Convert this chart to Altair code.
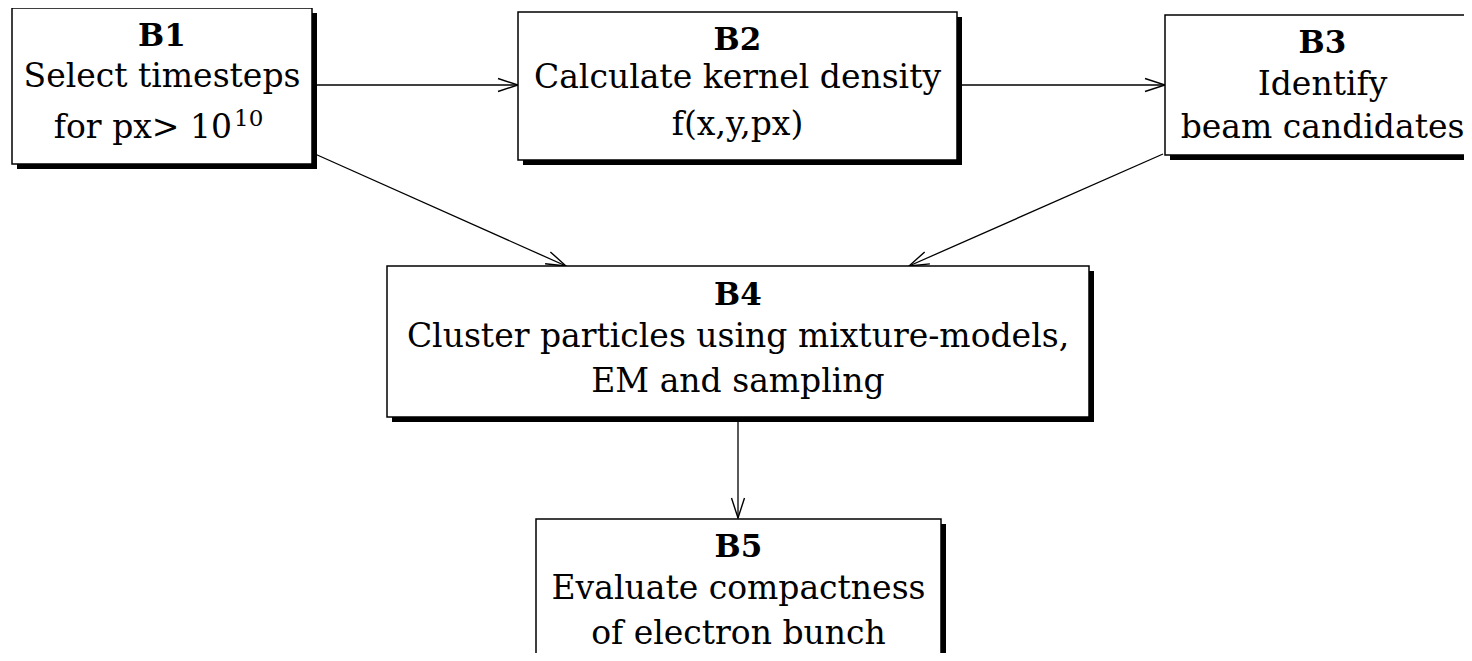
import math
import altair as alt
import pandas as pd

# ---- diagram content -------------------------------------------------
node_ids = ["B1", "B2", "B3", "B4", "B5"]
node_left = [12, 518, 1165, 387, 536]
node_right = [312, 957, 1480, 1089, 941]
node_top = [8, 12, 15, 266, 519]
node_bottom = [164, 160, 155, 417, 658]

line_node = ["B1", "B1", "B1",
             "B2", "B2", "B2",
             "B3", "B3", "B3",
             "B4", "B4", "B4",
             "B5", "B5", "B5"]
line_text = ["B1", "Select timesteps", "",
             "B2", "Calculate kernel density", "f(x,y,px)",
             "B3", "Identify", "beam candidates",
             "B4", "Cluster particles using mixture-models,", "EM and sampling",
             "B5", "Evaluate compactness", "of electron bunch"]
line_bold = [True, False, False] * 5
line_baseline = [46, 87, 0,
                 50, 88, 135,
                 53, 95, 138,
                 305, 347, 392,
                 557, 599, 644]

# line with the power of ten (base + superscript)
power_base_text = ["for px> 10"]
power_base_right = [232]
power_base_baseline = [138]
power_sup_text = ["10"]
power_sup_left = [234]
power_sup_baseline = [126]

edge_from = ["B1", "B2", "B1", "B3", "B4"]
edge_to = ["B2", "B3", "B4", "B4", "B5"]
edge_x0 = [316, 962, 315, 1163, 738]
edge_y0 = [85, 85, 154, 154, 421]
edge_x1 = [518, 1165, 566, 909, 738]
edge_y1 = [85, 85, 266, 266, 518]

SHADOW = 5

# ---- tables ----------------------------------------------------------
nodes = pd.DataFrame({"id": node_ids, "l": node_left, "r": node_right,
                      "t": node_top, "b": node_bottom})
nodes["cx"] = (nodes["l"] + nodes["r"]) / 2
cx = dict(zip(nodes["id"], nodes["cx"]))

lines = pd.DataFrame({"node": line_node, "text": line_text,
                      "bold": line_bold, "y": line_baseline})
lines = lines[lines["text"] != ""].copy()
lines["x"] = lines["node"].map(cx)

edges = pd.DataFrame({"src": edge_from, "dst": edge_to,
                      "x0": edge_x0, "y0": edge_y0, "x1": edge_x1, "y1": edge_y1})
edges["angle"] = [
    (math.degrees(math.atan2(b - a, d - c)) + 360) % 360
    for a, b, c, d in zip(edges["y0"], edges["y1"], edges["x0"], edges["x1"])
]

power_base = pd.DataFrame({"text": power_base_text, "x": power_base_right,
                           "y": power_base_baseline})
power_sup = pd.DataFrame({"text": power_sup_text, "x": power_sup_left,
                          "y": power_sup_baseline})

W, H = 1456, 645
xs = alt.Scale(domain=[8, 8 + W], nice=False, zero=False)
ys = alt.Scale(domain=[8, 8 + H], nice=False, zero=False, reverse=True)

FONT = "DejaVu Serif"
INK = "#000000"

shadow = alt.Chart(nodes).transform_calculate(
    sl="datum.l + %d" % SHADOW, sr="datum.r + %d" % SHADOW,
    st="datum.t + %d" % SHADOW, sb="datum.b + %d" % SHADOW,
).mark_rect(color="black").encode(
    x=alt.X("sl:Q", scale=xs, axis=None), x2="sr:Q",
    y=alt.Y("st:Q", scale=ys, axis=None), y2="sb:Q",
)

boxes = alt.Chart(nodes).mark_rect(fill="white", stroke="black", strokeWidth=1.5).encode(
    x=alt.X("l:Q", scale=xs, axis=None), x2="r:Q",
    y=alt.Y("t:Q", scale=ys, axis=None), y2="b:Q",
)

edge_lines = alt.Chart(edges).mark_rule(color=INK, strokeWidth=1.3).encode(
    x=alt.X("x0:Q", scale=xs, axis=None), x2="x1:Q",
    y=alt.Y("y0:Q", scale=ys, axis=None), y2="y1:Q",
)

heads = alt.Chart(edges).mark_point(
    shape="M-2,-0.65L0,0L-2,0.65", filled=False, size=400,
    stroke=INK, strokeWidth=1.4, opacity=1,
).encode(
    x=alt.X("x1:Q", scale=xs, axis=None),
    y=alt.Y("y1:Q", scale=ys, axis=None),
    angle=alt.Angle("angle:Q", scale=None),
)

titles = alt.Chart(lines[lines["bold"]]).mark_text(
    font=FONT, fontSize=31, fontWeight="bold", color=INK,
    align="center", baseline="alphabetic",
).encode(
    x=alt.X("x:Q", scale=xs, axis=None), y=alt.Y("y:Q", scale=ys, axis=None),
    text="text:N",
)

body = alt.Chart(lines[~lines["bold"]]).mark_text(
    font=FONT, fontSize=33, color=INK, align="center", baseline="alphabetic",
).encode(
    x=alt.X("x:Q", scale=xs, axis=None), y=alt.Y("y:Q", scale=ys, axis=None),
    text="text:N",
)

pbase = alt.Chart(power_base).mark_text(
    font=FONT, fontSize=33, color=INK, align="right", baseline="alphabetic",
).encode(
    x=alt.X("x:Q", scale=xs, axis=None), y=alt.Y("y:Q", scale=ys, axis=None),
    text="text:N",
)

psup = alt.Chart(power_sup).mark_text(
    font=FONT, fontSize=23, color=INK, align="left", baseline="alphabetic",
).encode(
    x=alt.X("x:Q", scale=xs, axis=None), y=alt.Y("y:Q", scale=ys, axis=None),
    text="text:N",
)

chart = alt.layer(
    edge_lines, heads, shadow, boxes, titles, body, pbase, psup
).properties(
    width=W, height=H, padding=0, autosize="none", background="white",
).configure_view(stroke=None)

chart.save("out.html", embed_options={"renderer": "svg", "actions": False})
